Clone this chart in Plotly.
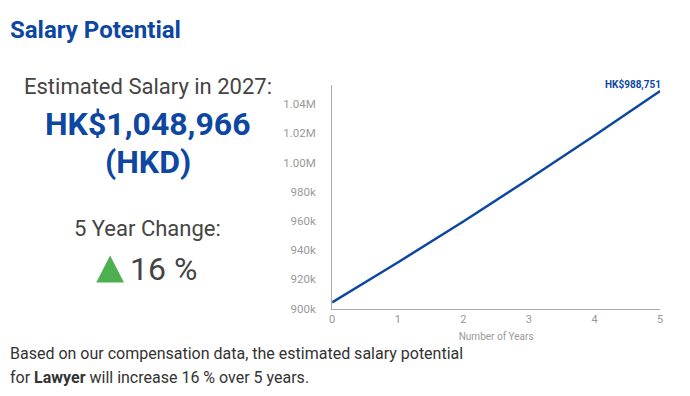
import plotly.graph_objects as go

years = [0, 1, 2, 3, 4, 5]
salary = [904281, 931600, 959700, 988751, 1018500, 1048966]
y_tickvals = [900000, 920000, 940000, 960000, 980000, 1000000, 1020000, 1040000]
y_ticktext = ["900k", "920k", "940k", "960k", "980k", "1.00M", "1.02M", "1.04M"]
x_tickvals = [0, 1, 2, 3, 4, 5]

OFF = 8      # page body margin
SY = 0.98    # observed vertical scale of the capture
W, H = 674, 392
BLUE = "#0d47a1"
GRAY_TXT = "#444444"
FONT = "Roboto"

def px(x):
    return (x - OFF) / W

def py(y):
    return 1 - ((y - OFF) / SY) / H

fig = go.Figure()
fig.add_trace(go.Scatter(x=years, y=salary, mode="lines",
                         line=dict(color=BLUE, width=2.5), hoverinfo="skip"))

fig.update_layout(
    width=W, height=H,
    margin=dict(l=0, r=0, t=0, b=0),
    paper_bgcolor="white", plot_bgcolor="white",
    showlegend=False,
    font=dict(family=FONT),
    xaxis=dict(domain=[px(332), px(663)], range=[0, 5], tickvals=x_tickvals,
               showgrid=False, zeroline=False, showline=True, linecolor="#aaaaaa",
               linewidth=1, tickfont=dict(size=11, color="#999999", family=FONT),
               ticks="",
               title=dict(text="Number of Years", font=dict(size=10, color="#999999"),
                          standoff=8)),
    yaxis=dict(domain=[py(308), py(85)], range=[900000, 1053000], tickvals=y_tickvals,
               ticktext=y_ticktext, showgrid=False, zeroline=False, showline=True,
               linecolor="#aaaaaa", linewidth=1, ticks="", ticklabelstandoff=13,
               tickfont=dict(size=11.5, color="#999999", family=FONT)),
)

# end-point label
fig.add_annotation(x=5, y=1053000, xref="x", yref="y", text="<b>HK$988,751</b>",
                   showarrow=False, xanchor="right", yanchor="bottom", yshift=-8, xshift=3,
                   font=dict(size=10, color=BLUE, family=FONT))

def txt(x, y, text, size, color, xanchor="center"):
    fig.add_annotation(x=px(x), y=py(y), xref="paper", yref="paper", text=text,
                       showarrow=False, xanchor=xanchor, yanchor="middle",
                       font=dict(size=size, color=color, family=FONT))

txt(5, 30, "<b>Salary Potential</b>", 24, BLUE, "left")
txt(146, 86, "Estimated Salary in 2027:", 22, GRAY_TXT)
txt(146, 124, "<b>HK$1,048,966</b>", 32, BLUE)
txt(146, 162, "<b>(HKD)</b>", 32, BLUE)
txt(146, 228, "5 Year Change:", 22, GRAY_TXT)
txt(126, 268, "16 %", 32, GRAY_TXT, "left")
txt(5, 353, "Based on our compensation data, the estimated salary potential", 16, "#333333", "left")
txt(5, 377, "for <b>Lawyer</b> will increase 16 % over 5 years.", 16, "#333333", "left")

# green up triangle
fig.add_shape(type="path", xref="paper", yref="paper",
              path=f"M {px(94)} {py(282)} L {px(108)} {py(255)} L {px(122)} {py(282)} Z",
              fillcolor="#4caf50", line=dict(width=0))

fig.write_html("out.html")
